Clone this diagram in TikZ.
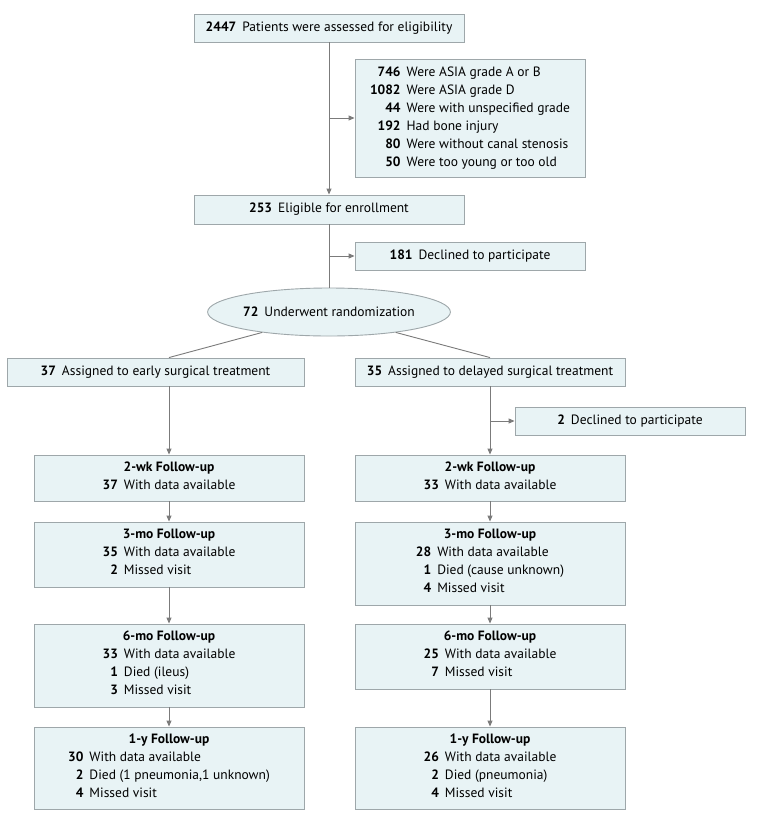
\documentclass[tikz,border=0pt]{standalone}
\usepackage{fontspec}
\setmainfont{PT Sans}
\usetikzlibrary{arrows.meta,shapes.geometric}
\definecolor{boxfill}{HTML}{E8F3F5}
\definecolor{boxline}{HTML}{9EA7AA}
\definecolor{arrowc}{HTML}{7B7B7B}
\newcommand{\nm}[1]{\textbf{#1}}
\newcommand{\lst}[1]{\begin{tabular}[t]{@{}r@{\hspace{6pt}}l@{}}#1\end{tabular}}
\tikzset{
  flowbox/.style={draw=boxline, fill=boxfill, line width=0.9pt, inner sep=0pt, align=center,
    font=\fontsize{13.5}{18}\selectfont},
  randell/.style={flowbox, ellipse},
  conn/.style={draw=arrowc, line width=0.9pt},
  arr/.style={conn, -{Triangle[length=6pt,width=5pt]}}
}
\begin{document}
\begin{tikzpicture}[x=1pt,y=-1pt]
\useasboundingbox (0,0) rectangle (780,823);
\fill[white] (0,0) rectangle (780,823);

\node[flowbox, minimum width=270pt, minimum height=28pt] (top) at (329,28)
  {\nm{2447}\hspace{6pt}Patients were assessed for eligibility};
\node[flowbox, minimum width=230pt, minimum height=118pt] (excl) at (470,118)
  {\lst{\nm{746} & Were ASIA grade A or B\\
        \nm{1082} & Were ASIA grade D\\
        \nm{44} & Were with unspecified grade\\
        \nm{192} & Had bone injury\\
        \nm{80} & Were without canal stenosis\\
        \nm{50} & Were too young or too old}};
\node[flowbox, minimum width=270pt, minimum height=29pt] (elig) at (329,209.5)
  {\nm{253}\hspace{6pt}Eligible for enrollment};
\node[flowbox, minimum width=230pt, minimum height=28pt] (decl) at (470,256)
  {\nm{181}\hspace{6pt}Declined to participate};
\node[randell, minimum width=230pt, minimum height=48pt] (rand) at (329,312)
  {\nm{72}\hspace{6pt}Underwent randomization};

\node[flowbox, minimum width=297pt, minimum height=28pt] (asgL) at (155.5,372)
  {\nm{37}\hspace{6pt}Assigned to early surgical treatment};
\node[flowbox, minimum width=270pt, minimum height=28pt] (asgR) at (490,372)
  {\nm{35}\hspace{6pt}Assigned to delayed surgical treatment};
\node[flowbox, minimum width=230pt, minimum height=28pt] (declR) at (630,421)
  {\nm{2}\hspace{6pt}Declined to participate};

% left column
\node[flowbox, minimum width=270pt, minimum height=46pt] (wkL) at (169,478)
  {\nm{2-wk Follow-up}\\\lst{\nm{37} & With data available}};
\node[flowbox, minimum width=270pt, minimum height=65pt] (m3L) at (169,554.5)
  {\nm{3-mo Follow-up}\\\lst{\nm{35} & With data available\\ \nm{2} & Missed visit}};
\node[flowbox, minimum width=270pt, minimum height=83pt] (m6L) at (169,665.5)
  {\nm{6-mo Follow-up}\\\lst{\nm{33} & With data available\\ \nm{1} & Died (ileus)\\ \nm{3} & Missed visit}};
\node[flowbox, minimum width=270pt, minimum height=82pt] (y1L) at (169,768)
  {\nm{1-y Follow-up}\\\lst{\nm{30} & With data available\\ \nm{2} & Died (1 pneumonia,1 unknown)\\ \nm{4} & Missed visit}};

% right column
\node[flowbox, minimum width=270pt, minimum height=46pt] (wkR) at (490,478)
  {\nm{2-wk Follow-up}\\\lst{\nm{33} & With data available}};
\node[flowbox, minimum width=270pt, minimum height=83pt] (m3R) at (490,563.5)
  {\nm{3-mo Follow-up}\\\lst{\nm{28} & With data available\\ \nm{1} & Died (cause unknown)\\ \nm{4} & Missed visit}};
\node[flowbox, minimum width=270pt, minimum height=65pt] (m6R) at (490,656.5)
  {\nm{6-mo Follow-up}\\\lst{\nm{25} & With data available\\ \nm{7} & Missed visit}};
\node[flowbox, minimum width=270pt, minimum height=82pt] (y1R) at (490,768)
  {\nm{1-y Follow-up}\\\lst{\nm{26} & With data available\\ \nm{2} & Died (pneumonia)\\ \nm{4} & Missed visit}};

% connectors
\draw[arr] (top.south) -- (elig.north);
\draw[arr] (top.south |- excl.west) -- (excl.west);
\draw[conn] (elig.south) -- (rand.north);
\draw[arr] (elig.south |- decl.west) -- (decl.west);
\draw[conn] (rand.197) -- (wkL.north |- asgL.north);
\draw[conn] (rand.343) -- (asgR.north);
\draw[arr] (wkL.north |- asgL.south) -- (wkL.north);
\draw[arr] (asgR.south) -- (wkR.north);
\draw[arr] (asgR.south |- declR.west) -- (declR.west);
\draw[arr] (wkL.south) -- (m3L.north);
\draw[arr] (m3L.south) -- (m6L.north);
\draw[arr] (m6L.south) -- (y1L.north);
\draw[arr] (wkR.south) -- (m3R.north);
\draw[arr] (m3R.south) -- (m6R.north);
\draw[arr] (m6R.south) -- (y1R.north);
\end{tikzpicture}
\end{document}
